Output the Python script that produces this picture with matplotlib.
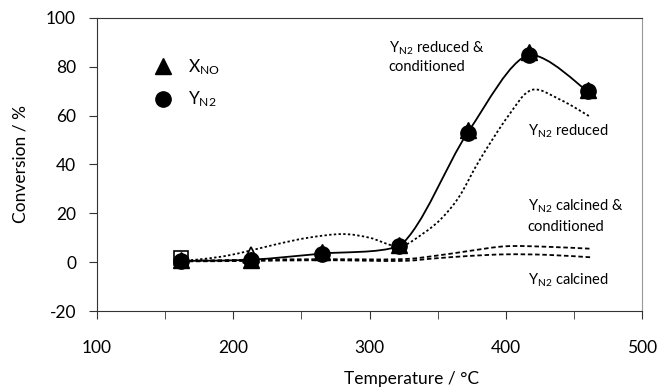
import numpy as np
import matplotlib
matplotlib.use("Agg")
import matplotlib.pyplot as plt
from matplotlib.path import Path
from matplotlib.patches import PathPatch

plt.rcParams['font.family'] = ['Lato', 'DejaVu Sans']
plt.rcParams['mathtext.fontset'] = 'custom'
plt.rcParams['mathtext.rm'] = 'Lato'
plt.rcParams['mathtext.it'] = 'Lato'
plt.rcParams['axes.unicode_minus'] = False

# measured points (reduced & conditioned sample)
temps = [162, 213, 265, 322, 372, 417, 460]
x_no = [1.0, 1.0, 4.0, 7.0, 54.0, 86.0, 70.5]
y_n2 = [0.5, 1.0, 3.5, 6.5, 53.0, 85.0, 70.0]

# open markers of the other samples
open_sq_t = [162]
open_sq_y = [1.5]
open_tri_t = [213]
open_tri_y = [3.0]

# Y_N2 reduced (dotted)
red_t = [162, 178, 195, 213, 233, 255, 280, 300, 322, 340, 353, 366, 381, 402, 419, 440, 462]
red_y = [0.5, 1.3, 2.6, 4.8, 7.5, 10.0, 11.5, 10.0, 6.5, 12.0, 18.0, 27.0, 42.0, 60.0, 70.5, 66.5, 59.5]

# Y_N2 calcined & conditioned, Y_N2 calcined (dashed)
calc_t = [162, 213, 265, 322, 347, 372, 400, 430, 462]
calc_cond_y = [0.5, 1.0, 1.2, 1.2, 2.5, 4.5, 6.5, 6.3, 5.5]
calc_y = [0.3, 0.5, 0.8, 0.5, 1.5, 2.5, 3.2, 3.0, 2.0]


def smooth_path(xs, ys, clip=False):
    # smoothed line: bezier with catmull-rom tangents
    p = np.column_stack([xs, ys]).astype(float)
    verts = [p[0]]
    codes = [Path.MOVETO]
    n = len(p)
    for i in range(n - 1):
        p0 = p[i - 1] if i > 0 else p[i]
        p3 = p[i + 2] if i + 2 < n else p[i + 1]
        c1 = p[i] + (p[i + 1] - p0) / 6.0
        c2 = p[i + 1] - (p3 - p[i]) / 6.0
        if clip:
            lo, hi = sorted([p[i][1], p[i + 1][1]])
            c1[1] = min(max(c1[1], lo), hi)
            c2[1] = min(max(c2[1], lo), hi)
        verts += [c1, c2, p[i + 1]]
        codes += [Path.CURVE4] * 3
    return Path(verts, codes)


fig = plt.figure(figsize=(6.64, 3.89), dpi=100)
ax = fig.add_axes([0.146, 0.2005, 0.821, 0.7535])

lw = 1.3
ax.add_patch(PathPatch(smooth_path(red_t, red_y), fill=False, color='black',
                       lw=lw, linestyle=(0, (1.3, 1.3))))
ax.add_patch(PathPatch(smooth_path(calc_t, calc_cond_y), fill=False, color='black',
                       lw=lw, linestyle=(0, (2.5, 1.5))))
ax.add_patch(PathPatch(smooth_path(calc_t, calc_y), fill=False, color='black',
                       lw=lw, linestyle=(0, (2.5, 1.5))))
ax.add_patch(PathPatch(smooth_path(temps, y_n2, clip=True), fill=False,
                       color='black', lw=lw))

ax.plot(open_sq_t, open_sq_y, 's', ms=10, mfc='white', mec='black', mew=1.2)
ax.plot(open_tri_t, open_tri_y, '^', ms=11, mfc='white', mec='black', mew=1.2)
ax.plot(temps, y_n2, 'o', ms=11, color='black', label='Y$_{\\mathrm{N2}}$', zorder=5)
ax.plot(temps, x_no, '^', ms=11, color='black', label='X$_{\\mathrm{NO}}$', zorder=6)

ax.set_xlim(100, 500)
ax.set_ylim(-20, 100)
ax.set_xticks([100, 200, 300, 400, 500])
ax.set_xticks([150, 250, 350, 450], minor=True)
ax.set_yticks(range(-20, 101, 20))
ax.tick_params(axis='x', which='both', direction='out', length=6, pad=15,
               labelsize=12.5, color='#333333')
ax.tick_params(axis='y', direction='out', length=6, pad=9, labelsize=12.5,
               color='#333333')

for s in ['left', 'bottom', 'top']:
    ax.spines[s].set_color('#333333')
ax.spines['right'].set_color('#999999')

ax.set_xlabel('Temperature / °C', fontsize=12.5)
ax.xaxis.set_label_coords(0.578, -0.205)
ax.set_ylabel('Conversion / %', fontsize=12.5)
ax.yaxis.set_label_coords(-0.125, 0.5)

h, l = ax.get_legend_handles_labels()
ax.legend(h[::-1], l[::-1], loc='upper left', bbox_to_anchor=(0.077, 0.92),
          frameon=False, handlelength=1.0, handletextpad=0.9, labelspacing=0.75,
          fontsize=12.5)

ann = 10.5
ax.text(314, 87.7, 'Y$_{\\mathrm{N2}}$ reduced &', fontsize=ann, va='center')
ax.text(314, 79.7, 'conditioned', fontsize=ann, va='center')
ax.text(416, 53.7, 'Y$_{\\mathrm{N2}}$ reduced', fontsize=ann, va='center')
ax.text(416, 23.0, 'Y$_{\\mathrm{N2}}$ calcined &', fontsize=ann, va='center')
ax.text(416, 14.2, 'conditioned', fontsize=ann, va='center')
ax.text(416, -7.3, 'Y$_{\\mathrm{N2}}$ calcined', fontsize=ann, va='center')

fig.savefig('out.png', dpi=100)
